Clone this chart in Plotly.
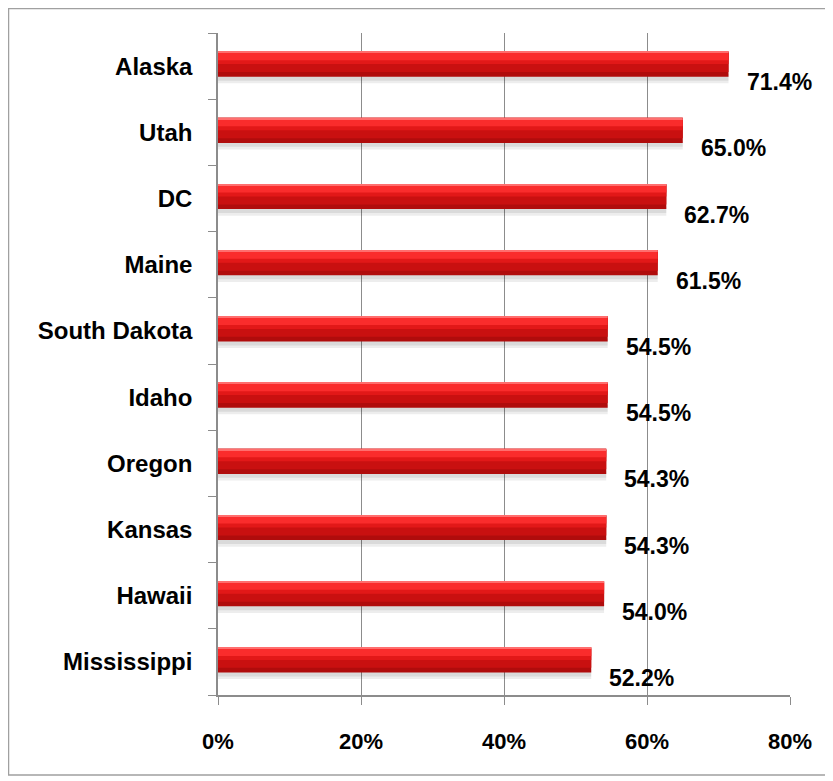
import plotly.graph_objs as go

# data, top of the chart first
states = ['Alaska', 'Utah', 'DC', 'Maine', 'South Dakota', 'Idaho', 'Oregon', 'Kansas', 'Hawaii', 'Mississippi']
values = [71.4, 65.0, 62.7, 61.5, 54.5, 54.5, 54.3, 54.3, 54.0, 52.2]
x_ticks = [0, 20, 40, 60, 80]
x_tick_labels = ['0%', '20%', '40%', '60%', '80%']

# plotly draws categories bottom-up, so flip them
cats = states[::-1]
vals = values[::-1]

# the page body adds 8px round the figure, so the figure is 8px smaller
W, H = 825, 773
ml, mr, mt, mb = 210, 43, 25, 86
font = 'Liberation Sans, Arial, sans-serif'
grey = '#8c8c8c'

fig = go.Figure()

# cylinder look built from a few overlaid bar layers: (offset, width, colour)
layers = [
    (-0.26, 0.14, 'rgba(0,0,0,0.07)'),   # soft shadow
    (-0.22, 0.10, 'rgba(0,0,0,0.08)'),
    (-0.16, 0.38, '#b00c0c'),            # dark bottom
    (-0.09, 0.31, '#c91010'),            # body
    (0.03, 0.17, '#e21818'),             # upper
    (0.09, 0.11, '#fa2c2c'),             # highlight
    (0.20, 0.02, '#ff6e6e'),             # top edge
]
for off, wid, col in layers:
    fig.add_trace(go.Bar(
        x=vals, y=cats, orientation='h',
        offset=off, width=wid,
        marker=dict(color=col, line=dict(width=0)),
        hoverinfo='skip', showlegend=False,
    ))

for s, v in zip(cats, vals):
    fig.add_annotation(x=v, y=s, text=f'<b>{v:.1f}%</b>', showarrow=False,
                       xanchor='left', yanchor='middle', xshift=16, yshift=-16,
                       font=dict(family=font, size=23, color='black'))

# light grey frame round the whole chart
pw = W - ml - mr
ph = H - mt - mb
fig.add_shape(type='rect', xref='paper', yref='paper',
              x0=(0.5 - ml) / pw, x1=(820 - ml) / pw,
              y0=1 - (767 - mt) / ph, y1=1 + (mt - 0.5) / ph,
              line=dict(color='#a0a0a0', width=1.5), layer='below')

fig.update_layout(
    width=W, height=H,
    margin=dict(l=ml, r=mr, t=mt, b=mb, autoexpand=False),
    plot_bgcolor='white', paper_bgcolor='white',
    barmode='overlay',
    font=dict(family=font, color='black'),
)
fig.update_xaxes(range=[0, 80], tickvals=x_ticks, ticktext=x_tick_labels,
                 showgrid=True, gridcolor=grey, gridwidth=1,
                 showline=True, linecolor=grey, linewidth=1.5,
                 ticks='outside', ticklen=8, tickcolor=grey,
                 zeroline=False, ticklabelstandoff=18, automargin=False,
                 tickfont=dict(family=font, size=22, color='black', weight='bold'))
fig.update_yaxes(type='category', categoryorder='array', categoryarray=cats,
                 range=[-0.5, len(cats) - 0.5],
                 showgrid=False, showline=True, linecolor=grey, linewidth=1.5,
                 ticks='outside', tickson='boundaries', ticklen=8, tickcolor=grey,
                 ticklabelstandoff=19, automargin=False,
                 tickfont=dict(family=font, size=24, color='black', weight='bold'))

fig.write_html('out.html')
